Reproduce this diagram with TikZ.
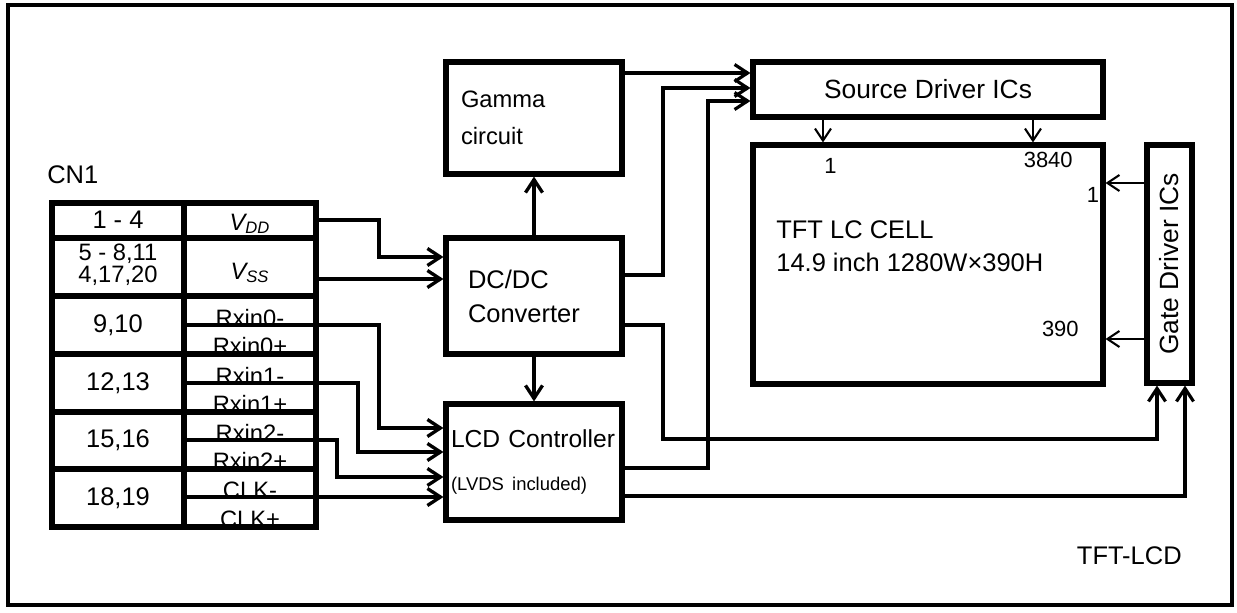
\documentclass[tikz,border=0pt]{standalone}
\usepackage{fontspec}
\usepackage{graphicx}
\setmainfont{Liberation Sans}
\usepackage{tikz}
\usetikzlibrary{arrows.meta}

\begin{document}
\begin{tikzpicture}[
x=0.02cm,
y=-0.02cm,
every node/.style={font=\fontsize{14.5}{17}\selectfont,inner sep=0pt},
rblock/.style={rectangle,draw,line width=2.9pt,inner sep=0pt},
rtext/.style={align=left,anchor=west},
rnum/.style={font=\fontsize{12.5}{14}\selectfont},
rpin/.style={align=center,font=\fontsize{14.5}{12.6}\selectfont},
rsig/.style={anchor=base,font=\fontsize{13.5}{16}\selectfont},
rgrid/.style={line width=3pt},
rsub/.style={line width=2.2pt},
rconn/.style={line width=1.9pt,-{Straight Barb[length=0.26cm,width=0.34cm]}},
rroute/.style={line width=1.8pt,-{Straight Barb[length=0.26cm,width=0.34cm]}},
rthin/.style={line width=1.2pt,-{Straight Barb[length=0.24cm,width=0.32cm]}}
]
\useasboundingbox (0,0) rectangle (1237,612);
\draw[line width=2.6pt] (8,5) rectangle (1232,605);

\node[rtext] (cn) at (47,175) {CN1};
\node[rpin] (p1) at (118,220) {1 - 4};
\node[rpin,font=\fontsize{13.5}{12.6}\selectfont] (p2) at (118,265) {5 - 8,11\\4,17,20};
\node[rpin] (p3) at (118,325) {9,10};
\node[rpin] (p4) at (118,383) {12,13};
\node[rpin] (p5) at (118,440) {15,16};
\node[rpin] (p6) at (118,498) {18,19};

\node[rsig] (svdd) at (250,230) {\textit{V\textsubscript{DD}}};
\node[rsig] (svss) at (250,279) {\textit{V\textsubscript{SS}}};
\node[rsig] (srx0n) at (250,326) {Rxin0-};
\node[rsig] (srx0p) at (250,354) {Rxin0+};
\node[rsig] (srx1n) at (250,384) {Rxin1-};
\node[rsig] (srx1p) at (250,412) {Rxin1+};
\node[rsig] (srx2n) at (250,441) {Rxin2-};
\node[rsig] (srx2p) at (250,469) {Rxin2+};
\node[rsig] (sclkn) at (250,498) {CLK-};
\node[rsig] (sclkp) at (250,527) {CLK+};

\draw[rgrid] (52,203) rectangle (316,527);
\draw[rgrid] (184,203) -- (184,527);
\foreach \ry in {238,296,354,412,469} \draw[rgrid] (52,\ry) -- (316,\ry);
\foreach \ry in {325,383,440,497} \draw[rsub] (184,\ry) -- (316,\ry);

\coordinate (pvdd) at (316,220);
\coordinate (pvss) at (316,279);
\coordinate (prx0) at (316,325);
\coordinate (prx1) at (316,383);
\coordinate (prx2) at (316,440);
\coordinate (pclk) at (316,497);

\node[rblock,minimum width=176*0.02cm,minimum height=112*0.02cm,align=left,text width=146*0.02cm,font=\fontsize{13.5}{21}\selectfont] (gamma) at (534,118) {Gamma\\circuit};
\node[rblock,minimum width=176*0.02cm,minimum height=116*0.02cm,align=left,text width=132*0.02cm,font=\fontsize{14.5}{19.3}\selectfont] (dcdc) at (534,296) {DC/DC\\Converter};
\node[rblock,minimum width=176*0.02cm,minimum height=116*0.02cm,align=left,text width=166*0.02cm,font=\fontsize{14}{25}\selectfont] (lcd) at (534,462) {\mbox{LCD Controller}\\\mbox{\fontsize{10.5}{12}\selectfont(LVDS included)}};
\node[rblock,minimum width=350*0.02cm,minimum height=55*0.02cm,font=\fontsize{15}{17}\selectfont] (src) at (928,89.5) {Source Driver ICs};
\node[rblock,minimum width=350*0.02cm,minimum height=239*0.02cm] (cell) at (928,264.5) {};
\node[rblock,minimum width=45*0.02cm,minimum height=238*0.02cm,font=\fontsize{15}{17}\selectfont] (gate) at (1169.5,264) {\rotatebox{90}{Gate Driver ICs}};

\node[rtext,font=\fontsize{14.5}{18.8}\selectfont] (celltxt) at (776,246.5) {TFT LC CELL\\14.9 inch 1280W×390H};
\node[rnum] (col1) at (830.5,165.5) {1};
\node[rnum,anchor=east] (col3840) at (1073,160) {3840};
\node[rnum] (row1) at (1093,195) {1};
\node[rnum,anchor=east] (row390) at (1079,329) {390};
\node[anchor=east] (tftlcd) at (1182,556) {TFT-LCD};

\draw[rconn] (pvdd) -| (379,257) -- (dcdc.west |- 0,257);
\draw[rconn] (pvss) -- (dcdc.west |- pvss);
\draw[rconn] (prx0) -| (379,428) -- (lcd.west |- 0,428);
\draw[rconn] (prx1) -| (358,452) -- (lcd.west |- 0,452);
\draw[rconn] (prx2) -| (337,477) -- (lcd.west |- 0,477);
\draw[rconn] (pclk) -- (lcd.west |- pclk);
\draw[rconn] (dcdc.north) -- (gamma.south);
\draw[rconn] (dcdc.south) -- (lcd.north);

\draw[rroute] (gamma.east |- 0,73) -- (src.west |- 0,73);
\draw[rroute] (dcdc.east |- 0,275) -| (663,88) -- (src.west |- 0,88);
\draw[rroute] (lcd.east |- 0,468) -| (708,101) -- (src.west |- 0,101);
\draw[rroute] (dcdc.east |- 0,325) -| (663,439) -| (gate.south -| 1157,0);
\draw[rroute] (lcd.east |- 0,496) -| (gate.south -| 1185,0);

\draw[rthin] (src.south -| 823,0) -- (cell.north -| 823,0);
\draw[rthin] (src.south -| 1033,0) -- (cell.north -| 1033,0);
\draw[rthin] (gate.west |- 0,183) -- (cell.east |- 0,183);
\draw[rthin] (gate.west |- 0,339) -- (cell.east |- 0,339);
\end{tikzpicture}
\end{document}
